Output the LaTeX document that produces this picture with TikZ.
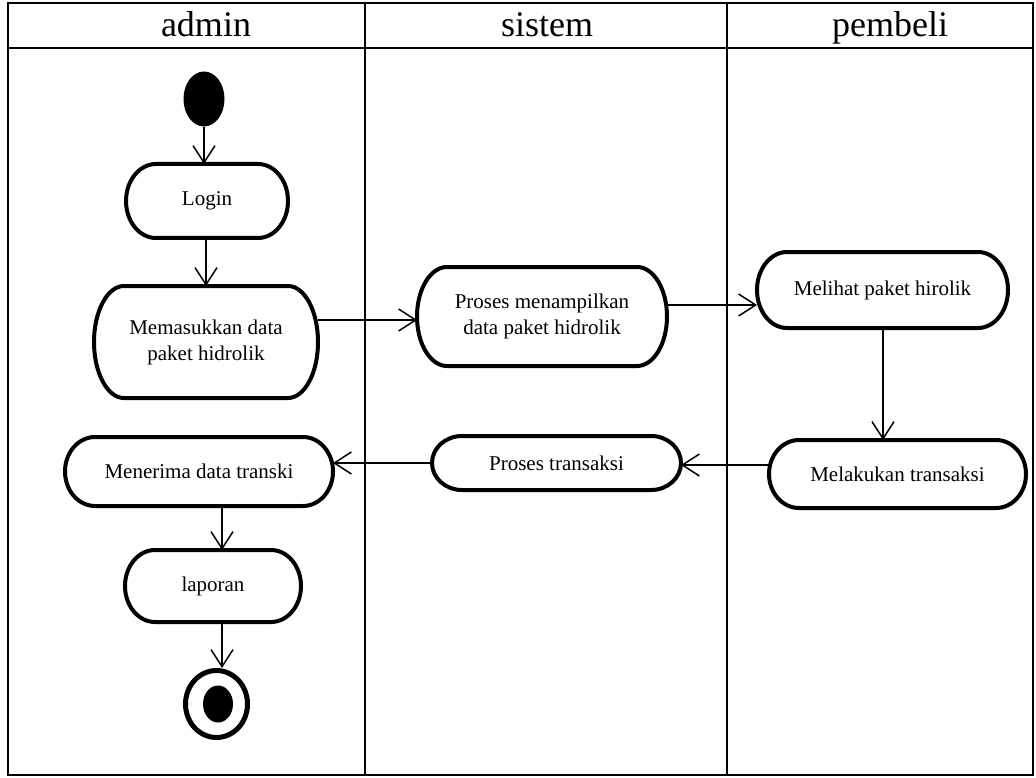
\documentclass[tikz,border=0pt]{standalone}
\usepackage{fontspec}
\setmainfont{Liberation Serif}
\usetikzlibrary{arrows.meta,shapes.geometric}
\tikzset{
  lane/.style={line width=2pt},
  lanetitle/.style={font=\fontsize{36}{42}\selectfont, inner sep=0pt, anchor=base},
  actbox/.style={rectangle, inner sep=0pt, outer sep=0pt, align=center,
    font=\fontsize{21}{26}\selectfont},
  actline/.style={line width=4pt, line join=round},
  flow/.style={line width=1.5pt, -{Straight Barb[length=17pt,width=22pt]}},
}
% activity: name, x, y, width, height, label -- flat top and bottom, half-elliptic ends
\newcommand\activity[6]{%
  \node[actbox, minimum width=#4pt, minimum height=#5pt] (#1) at (#2,#3) {#6};
  \draw[actline] ([xshift=30pt]#1.north west) -- ([xshift=-30pt]#1.north east)
    arc[start angle=90, end angle=-90, x radius=30pt, y radius={#5/2*1pt}]
    -- ([xshift=30pt]#1.south west)
    arc[start angle=270, end angle=90, x radius=30pt, y radius={#5/2*1pt}] -- cycle;
}
\begin{document}
\begin{tikzpicture}[x=1pt, y=-1pt]
\useasboundingbox (0,0) rectangle (1036,778);

% swimlane frame
\draw[lane] (8,3) rectangle (1033,775);
\draw[lane] (8,48) -- (1033,48);
\draw[lane] (365,3) -- (365,775);
\draw[lane] (727,3) -- (727,775);

\node[lanetitle] (tadmin) at (206,37) {admin};
\node[lanetitle] (tsistem) at (547,37) {sistem};
\node[lanetitle] (tpembeli) at (890,37) {pembeli};

% initial node
\node[ellipse, fill, inner sep=0pt, minimum width=41pt, minimum height=55pt] (start) at (204,99) {};

% activities
\activity{login}{207}{201}{162}{74}{Login}
\activity{masuk}{206}{342}{224}{112}{Memasukkan data\\paket hidrolik}
\activity{tampil}{542}{316.5}{250}{99}{Proses menampilkan\\data paket hidrolik}
\activity{lihat}{882.5}{290}{251}{76}{Melihat paket hirolik}
\activity{lakukan}{897.5}{474}{257}{68}{Melakukan transaksi}
\activity{ptrans}{556.5}{463}{249}{54}{Proses transaksi}
\activity{terima}{199}{471.5}{268}{69}{Menerima data transki}
\activity{lapor}{213}{586}{176}{72}{laporan}

% final node
\node[ellipse, draw, line width=5pt, inner sep=0pt, minimum width=62pt, minimum height=67pt] (end) at (216.5,704) {};
\fill ([xshift=1.5pt]end.center) ellipse [x radius=15pt, y radius=18.5pt];

% control flow
\draw[flow] (start.south) -- (start.south |- login.north);
\draw[flow] (206,0 |- login.south) -- (206,0 |- masuk.north);
\draw[flow] (masuk.east |- 0,320) -- (tampil.west |- 0,320);
\draw[flow] (tampil.east |- 0,305) -- (lihat.west |- 0,305);
\draw[flow] (883,0 |- lihat.south) -- (883,0 |- lakukan.north);
\draw[flow] (lakukan.west |- 0,465) -- (ptrans.east |- 0,465);
\draw[flow] (ptrans.west |- 0,463) -- (terima.east |- 0,463);
\draw[flow] (222,0 |- terima.south) -- (222,0 |- lapor.north);
\draw[flow] (222,0 |- lapor.south) -- (222,0 |- end.north);
\end{tikzpicture}
\end{document}
